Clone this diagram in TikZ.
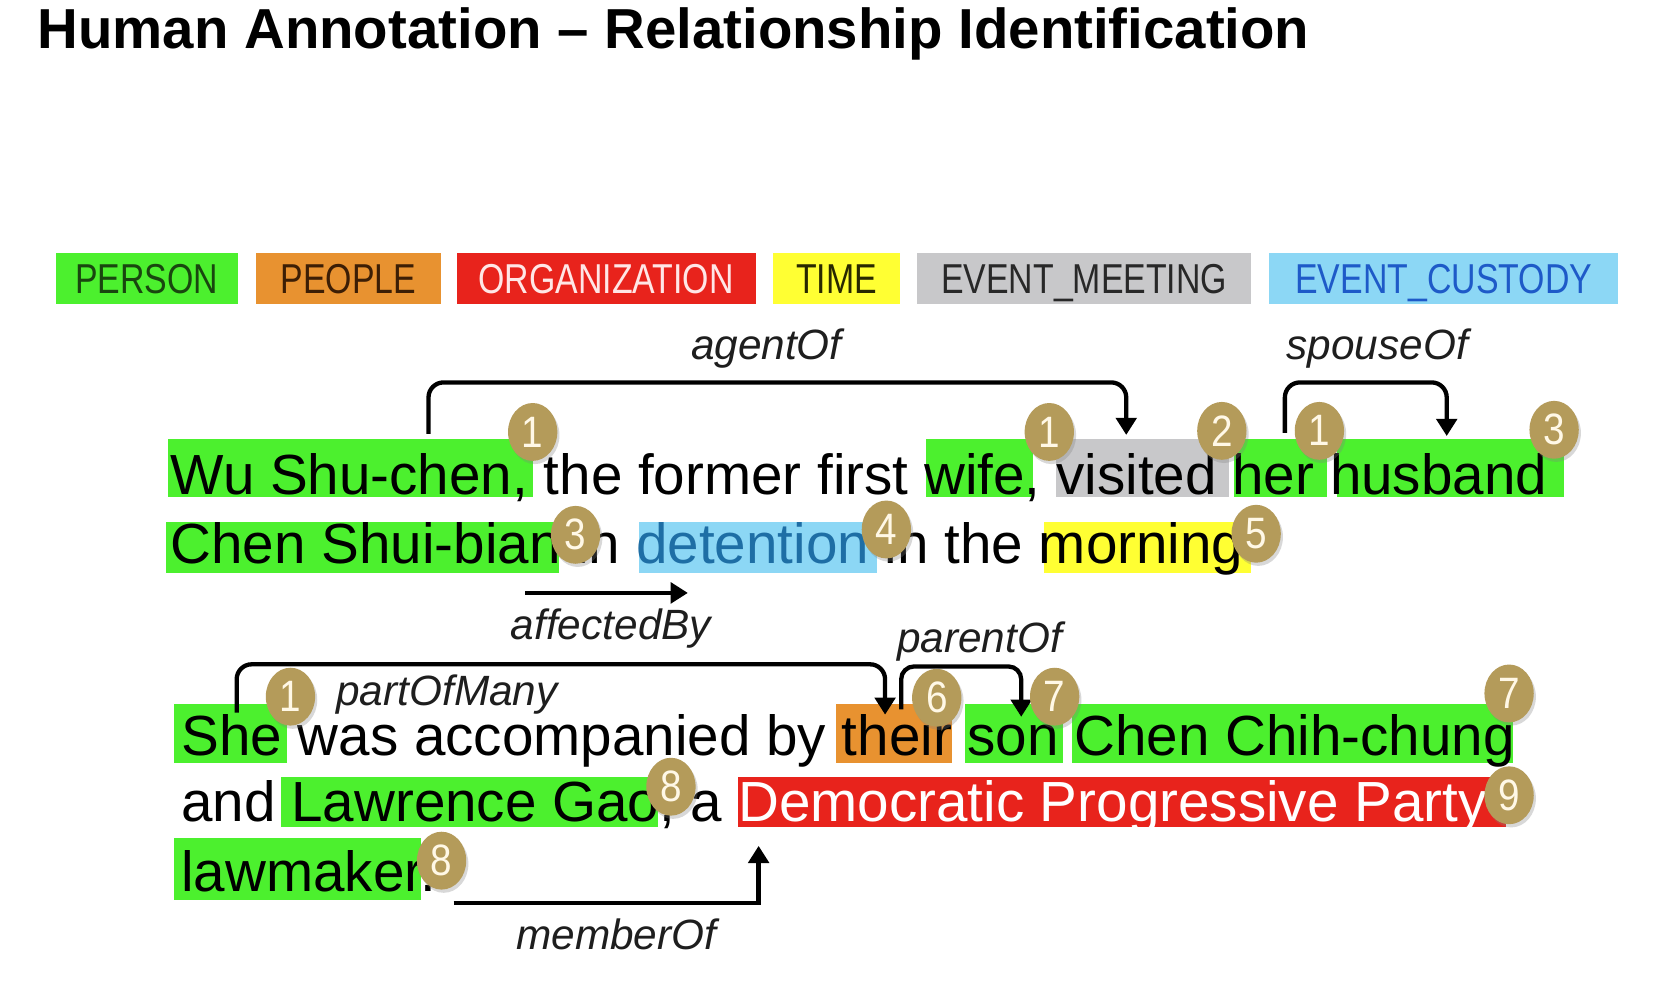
\documentclass[tikz,border=0pt]{standalone}
\usepackage{fontspec}
\setmainfont{Liberation Sans}
\newfontfamily\legendfont[FakeStretch=0.81]{Liberation Sans}
\newfontfamily\badgefont[FakeStretch=0.88]{Liberation Sans}
\usetikzlibrary{arrows.meta,shapes.geometric,fit,shadows}
\definecolor{cGreen}{RGB}{76,240,46}
\definecolor{cOrange}{RGB}{232,146,48}
\definecolor{cRed}{RGB}{232,35,28}
\definecolor{cYellow}{RGB}{255,255,51}
\definecolor{cGray}{RGB}{200,200,202}
\definecolor{cBlue}{RGB}{140,215,245}
\definecolor{cGold}{RGB}{180,155,90}
\definecolor{cDigit}{RGB}{255,248,230}
\definecolor{tPerson}{RGB}{25,70,15}
\definecolor{tPeople}{RGB}{60,30,5}
\definecolor{tOrg}{RGB}{255,230,230}
\definecolor{tTime}{RGB}{40,40,0}
\definecolor{tMeet}{RGB}{40,40,40}
\definecolor{tCust}{RGB}{30,90,200}
\definecolor{detblue}{RGB}{30,110,165}
\definecolor{labelgray}{RGB}{30,30,30}
\begin{document}
\begin{tikzpicture}[x=1pt,y=-1pt,
  hlbox/.style={inner sep=0pt, draw=none},
  legbox/.style={inner sep=0pt, draw=none, text height=28pt, text depth=0pt, minimum height=48pt,
    font=\legendfont\fontsize{39}{44}\selectfont},
  txt/.style={font=\fontsize{52.8}{60}\selectfont, inner sep=0pt, anchor=base west},
  lbl/.style={font=\itshape\fontsize{39.5}{44}\selectfont, inner sep=0pt, anchor=base, text=labelgray},
  rel/.style={line width=4pt, -{Triangle[width=19pt,length=16pt]}, rounded corners=14pt},
  badge/.style={ellipse, fill=cGold, minimum width=46pt, minimum height=54pt, inner sep=0pt,
    text=cDigit, font=\badgefont\fontsize{41}{44}\selectfont,
    drop shadow={shadow xshift=2pt, shadow yshift=-3pt, opacity=0.3}}
]
\useasboundingbox[fill=white] (0,0) rectangle (1560,934.8);

% title
\node[inner sep=0pt, anchor=base west, font=\bfseries\fontsize{52.6}{60}\selectfont] (title) at (35,45)
  {Human Annotation -- Relationship Identification};

% legend
\node[legbox, fill=cGreen, text=tPerson, minimum width=170pt] (lPerson) at (137,260) {PERSON};
\node[legbox, fill=cOrange, text=tPeople, minimum width=172pt] (lPeople) at (325,260) {PEOPLE};
\node[legbox, fill=cRed, text=tOrg, minimum width=279pt] (lOrg) at (565.5,260) {ORGANIZATION};
\node[legbox, fill=cYellow, text=tTime, minimum width=119pt] (lTime) at (780.5,260) {TIME};
\node[legbox, fill=cGray, text=tMeet, minimum width=311pt] (lMeet) at (1011.5,260) {EVENT\_MEETING};
\node[legbox, fill=cBlue, text=tCust, minimum width=326pt] (lCust) at (1347,260) {EVENT\_CUSTODY};

% highlights
\node[hlbox, fill=cGreen, fit={(157,410) (497,464)}] (hWu) {};
\node[hlbox, fill=cGreen, fit={(864,410) (964,464)}] (hWife) {};
\node[hlbox, fill=cGray, fit={(985,410) (1147,464)}] (hVisited) {};
\node[hlbox, fill=cGreen, fit={(1151,410) (1238,464)}] (hHer) {};
\node[hlbox, fill=cGreen, fit={(1247,410) (1459,464)}] (hHusband) {};
\node[hlbox, fill=cGreen, fit={(155,487) (522,535)}] (hChen) {};
\node[hlbox, fill=cBlue, fit={(596,487) (818,535)}] (hDet) {};
\node[hlbox, fill=cYellow, fit={(974,487) (1167,535)}] (hMorning) {};
\node[hlbox, fill=cGreen, fit={(162,657) (268,712)}] (hShe) {};
\node[hlbox, fill=cOrange, fit={(780,657) (888,712)}] (hTheir) {};
\node[hlbox, fill=cGreen, fit={(900,657) (992,712)}] (hSon) {};
\node[hlbox, fill=cGreen, fit={(1000,657) (1412,712)}] (hChih) {};
\node[hlbox, fill=cGreen, fit={(262,725) (614,772)}] (hGao) {};
\node[hlbox, fill=cRed, fit={(689,725) (1405,772)}] (hDPP) {};
\node[hlbox, fill=cGreen, fit={(162,782) (393,840)}] (hLaw) {};

% sentence
\node[txt] (line1) at (159,461.5) {Wu Shu-chen, the former first wife, visited her husband};
\node[txt] (line2) at (159,525.5) {Chen Shui-bian in \textcolor{detblue}{detention} in the morning};
\node[txt] (line3) at (169,705) {She was accompanied by their son Chen Chih-chung};
\node[txt] (line4) at (169,766) {and Lawrence Gao, a \textcolor{white}{Democratic Progressive Party}};
\node[txt] (line5) at (169,832) {lawmaker.};

% connector end points
\coordinate (agS) at ([xshift=243pt,yshift=5pt]hWu.north west);
\coordinate (agE) at ([xshift=66pt,yshift=4pt]hVisited.north west);
\coordinate (spS) at ([xshift=48pt,yshift=6pt]hHer.north west);
\coordinate (spE) at ([xshift=103pt,yshift=3pt]hHusband.north west);
\coordinate (afS) at ([xshift=-32pt,yshift=-18pt]hChen.south east);
\coordinate (afE) at ([xshift=46pt,yshift=-18pt]hDet.south west);
\coordinate (pmS) at ([xshift=59pt,yshift=-8pt]hShe.north west);
\coordinate (pmE) at ([xshift=46pt,yshift=-10pt]hTheir.north west);
\coordinate (poS) at ([xshift=61pt,yshift=-5pt]hTheir.north west);
\coordinate (poE) at ([xshift=53pt,yshift=-12pt]hSon.north west);
\coordinate (moS) at ([xshift=30pt,yshift=-2pt]hLaw.south east);
\coordinate (moE) at ([xshift=19pt,yshift=-17pt]hDPP.south west);

% connectors
\draw[rel] (agS) |- ([yshift=49pt]agE) -- (agE);
\draw[rel] (spS) |- ([yshift=50pt]spE) -- (spE);
\draw[rel] (afS) -- (afE);
\draw[rel] (pmS) |- ([yshift=47pt]pmE) -- (pmE);
\draw[rel, rounded corners=12pt] (poS) |- ([yshift=47pt]poE) -- (poE);
\draw[rel, sharp corners] (moS) -| (moE);

% labels
\node[lbl] (lAgent) at (715,335) {agentOf};
\node[lbl] (lSpouse) at (1285,335) {spouseOf};
\node[lbl] (lAff) at (570,597) {affectedBy};
\node[lbl] (lPart) at (417,658) {partOfMany};
\node[lbl] (lParent) at (914,609) {parentOf};
\node[lbl] (lMember) at (575,886) {memberOf};

% badges
\node[badge] (b1) at (497,403) {1};
\node[badge] (b2) at (979,403) {1};
\node[badge] (b3) at (1140,402) {2};
\node[badge] (b4) at (1231,402) {1};
\node[badge] (b5) at (1450,401) {3};
\node[badge] (b6) at (537,499) {3};
\node[badge] (b7) at (827,494) {4};
\node[badge] (b8) at (1172,498) {5};
\node[badge] (b9) at (271,650) {1};
\node[badge] (b10) at (874,651) {6};
\node[badge] (b11) at (984,650) {7};
\node[badge] (b12) at (1408,647) {7};
\node[badge] (b13) at (626,734) {8};
\node[badge] (b14) at (1408,742) {9};
\node[badge] (b15) at (412,803) {8};
\end{tikzpicture}
\end{document}
